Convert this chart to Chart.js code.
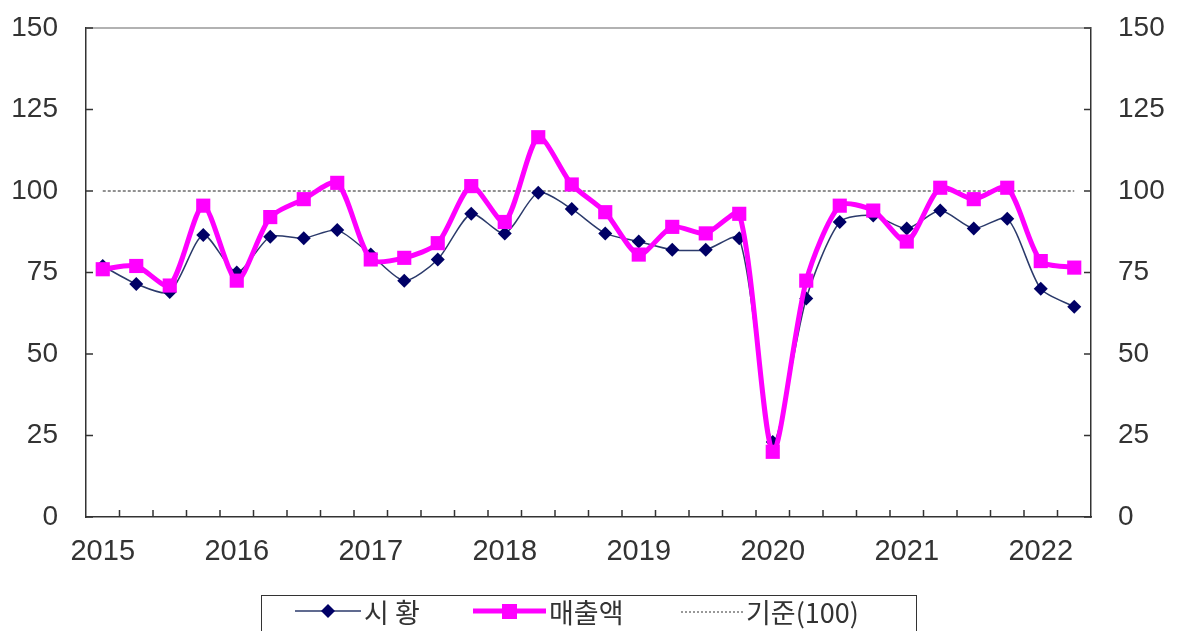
<!DOCTYPE html>
<html>
<head>
<meta charset="utf-8">
<script src="https://cdn.jsdelivr.net/npm/chart.js@4.4.1/dist/chart.umd.min.js"></script>
<style>
  html, body { margin: 0; padding: 0; background: #fff; overflow: hidden; }
  #wrap { position: relative; width: 1179px; height: 631px; }
  #legend {
    position: absolute; left: 261px; top: 595px; width: 654px; height: 50px;
    border: 1.5px solid #333; background: #fff;
    font-family: "Noto Sans CJK KR", sans-serif; font-size: 27px; color: #333;
  }
  #legend .item { position: absolute; top: 0; height: 30px; display: flex; align-items: center; }
  #legend svg { display: block; margin-right: 3px; }
</style>
</head>
<body>
<div id="wrap">
  <canvas id="grafico"></canvas>
  <div id="legend">
    <div class="item" style="left:33px">
      <svg width="66" height="20"><line x1="0" y1="10" x2="66" y2="10" stroke="#2b3a6b" stroke-width="1.5"/><polygon points="33,3 40,10 33,17 26,10" fill="#000066"/></svg>
      <span>시 황</span>
    </div>
    <div class="item" style="left:211px">
      <svg width="73" height="20"><line x1="0" y1="10" x2="73" y2="10" stroke="#ff00ff" stroke-width="5"/><rect x="29" y="3" width="15" height="15" fill="#ff00ff"/></svg>
      <span>매출액</span>
    </div>
    <div class="item" style="left:419px">
      <svg width="62" height="20"><line x1="0" y1="11" x2="62" y2="11" stroke="#333" stroke-width="1" stroke-dasharray="2,2"/></svg>
      <span>기준(100)</span>
    </div>
  </div>
</div>
<script>
// 분기별 지수 (2015 1Q ~ 2022 2Q)
var quarters = [
    '2015 1Q', '2015 2Q', '2015 3Q', '2015 4Q',
    '2016 1Q', '2016 2Q', '2016 3Q', '2016 4Q',
    '2017 1Q', '2017 2Q', '2017 3Q', '2017 4Q',
    '2018 1Q', '2018 2Q', '2018 3Q', '2018 4Q',
    '2019 1Q', '2019 2Q', '2019 3Q', '2019 4Q',
    '2020 1Q', '2020 2Q', '2020 3Q', '2020 4Q',
    '2021 1Q', '2021 2Q', '2021 3Q', '2021 4Q',
    '2022 1Q', '2022 2Q'
];
var sihwang = [77, 71.5, 69, 86.5, 75, 86, 85.5, 88, 80.5, 72.5,
               79, 93, 87, 99.5, 94.5, 87, 84.5, 82, 82, 85.5,
               23, 67, 90.5, 92.5, 88.5, 94, 88.5, 91.5, 70, 64.5];
var maechul = [76, 77, 71, 95.5, 72.5, 92, 97.5, 102.5, 79, 79.5,
               84, 101.5, 90.5, 116.5, 102, 93.5, 80.5, 89, 87, 93,
               20, 72.5, 95.5, 94, 84.5, 101, 97.5, 101, 78.5, 76.5];
var gijun = [100, 100, 100, 100, 100, 100, 100, 100, 100, 100,
             100, 100, 100, 100, 100, 100, 100, 100, 100, 100,
             100, 100, 100, 100, 100, 100, 100, 100, 100, 100];
var yTicks = [0, 25, 50, 75, 100, 125, 150];

var yFont = { family: 'Liberation Sans', size: 28 };
var xFont = { family: 'Liberation Sans', size: 29 };

// 축 안쪽 눈금 + 위쪽 테두리
var innerTicks = {
    id: 'innerTicks',
    beforeDatasetsDraw: function (chart) {
        var ctx = chart.ctx, a = chart.chartArea, x = chart.scales.x, y = chart.scales.y;
        ctx.save();
        ctx.strokeStyle = '#999';
        ctx.lineWidth = 1.5;
        ctx.beginPath();
        ctx.moveTo(a.left, a.top);
        ctx.lineTo(a.right, a.top);
        ctx.stroke();
        ctx.strokeStyle = '#333';
        ctx.beginPath();
        yTicks.forEach(function (v) {
            var py = y.getPixelForValue(v);
            ctx.moveTo(a.left, py); ctx.lineTo(a.left + 7, py);
            ctx.moveTo(a.right, py); ctx.lineTo(a.right - 7, py);
        });
        for (var i = 1; i < quarters.length; i++) {
            var px = (x.getPixelForValue(i - 1) + x.getPixelForValue(i)) / 2;
            ctx.moveTo(px, a.bottom); ctx.lineTo(px, a.bottom - 7);
        }
        ctx.stroke();
        ctx.restore();
    }
};

function fitY(w) {
    return function (s) {
        s.width = w;
        s.paddingTop = 0;
        s.paddingBottom = 0;
    };
}

var ctx = document.getElementById('grafico');
var myChart = new Chart(ctx, {
    type: 'line',
    data: {
        labels: quarters,
        datasets: [
            {
                label: '매출액',
                data: maechul,
                borderColor: '#ff00ff',
                backgroundColor: '#ff00ff',
                borderWidth: 5,
                pointStyle: 'rect',
                pointRadius: 10,
                pointBorderWidth: 0,
                tension: 0.25,
                order: 0
            },
            {
                label: '시 황',
                data: sihwang,
                borderColor: '#2b3a6b',
                backgroundColor: '#000066',
                pointBackgroundColor: '#000066',
                borderWidth: 1.5,
                pointStyle: 'rectRot',
                pointRadius: 7,
                pointBorderWidth: 0,
                tension: 0.25,
                order: 1
            },
            {
                label: '기준(100)',
                data: gijun,
                borderColor: '#222',
                borderWidth: 1,
                borderDash: [3, 2],
                pointRadius: 0,
                order: 2
            }
        ]
    },
    plugins: [innerTicks],
    options: {
        responsive: true,
        maintainAspectRatio: false,
        animation: false,
        layout: { padding: { top: 28, left: 0, right: 0, bottom: 0 } },
        plugins: {
            legend: { display: false },
            tooltip: { enabled: false }
        },
        scales: {
            x: {
                offset: true,
                grid: { display: false, drawTicks: false, offset: true },
                border: { display: true, color: '#333', width: 1.5 },
                ticks: {
                    autoSkip: false, maxRotation: 0, padding: 18,
                    color: '#333', font: xFont,
                    callback: function (v, i) {
                        var q = quarters[i];
                        return q.slice(5) === '1Q' ? q.slice(0, 4) : '';
                    }
                },
                afterFit: function (s) { s.height = 114; s.paddingLeft = 0; s.paddingRight = 0; }
            },
            y: {
                position: 'left',
                min: 0, max: 150,
                grid: { display: false, drawTicks: false },
                border: { display: true, color: '#333', width: 1.5 },
                ticks: { stepSize: 25, padding: 28, color: '#333', font: yFont },
                afterFit: fitY(86)
            },
            y2: {
                position: 'right',
                display: true,
                min: 0, max: 150,
                grid: { display: false, drawTicks: false },
                border: { display: true, color: '#333', width: 1.5 },
                ticks: { stepSize: 25, padding: 27, color: '#333', font: yFont },
                afterFit: fitY(88)
            }
        }
    }
});
</script>
</body>
</html>
